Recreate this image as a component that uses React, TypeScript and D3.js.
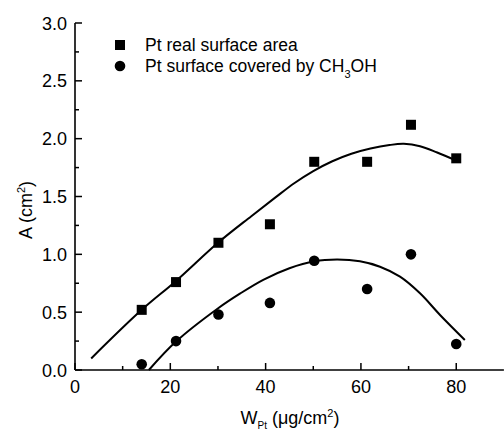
import React from "react";
import * as d3 from "d3";

// Measured Pt loading (µg/cm²) and areas (cm²)
const loadings = [14, 21.2, 30.1, 40.9, 50.2, 61.3, 70.5, 80];
const realArea = [0.52, 0.76, 1.1, 1.26, 1.8, 1.8, 2.12, 1.83];
const coveredArea = [0.05, 0.25, 0.48, 0.58, 0.945, 0.7, 1.0, 0.225];

// Fitted trend lines
const realFitX = [3.4, 14, 21.2, 30, 37, 42, 46, 50, 54, 58, 62, 66, 69, 72.4, 76, 80];
const realFitY = [0.1, 0.52, 0.77, 1.1, 1.33, 1.49, 1.615, 1.72, 1.805, 1.87, 1.915, 1.945, 1.955, 1.935, 1.88, 1.81];
const coveredFitX = [15.5, 21.3, 29.9, 34.6, 39.5, 45, 50.2, 55, 59.8, 64, 68.2, 72.4, 76.6, 81.8];
const coveredFitY = [0, 0.25, 0.53, 0.66, 0.78, 0.88, 0.94, 0.955, 0.94, 0.893, 0.807, 0.663, 0.476, 0.26];

const xMajorTicks = [0, 20, 40, 60, 80];
const xMinorTicks = [10, 30, 50, 70];
const yMajorTicks = [0, 0.5, 1.0, 1.5, 2.0, 2.5, 3.0];
const yMinorTicks = [0.25, 0.75, 1.25, 1.75, 2.25, 2.75];

const W = 504;
const H = 430;
const FONT = "'Liberation Sans', Arial, sans-serif";

export default function App() {
  const x = d3.scaleLinear().domain([0, 90]).range([75, 503.9]);
  const y = d3.scaleLinear().domain([0, 3]).range([370, 23]);

  const line = d3
    .line<[number, number]>()
    .x((d) => x(d[0]))
    .y((d) => y(d[1]))
    .curve(d3.curveCatmullRom.alpha(0.5));

  const realFit = line(realFitX.map((v, i) => [v, realFitY[i]]) as [number, number][]) || "";
  const coveredFit = line(coveredFitX.map((v, i) => [v, coveredFitY[i]]) as [number, number][]) || "";

  const [x0, x1] = x.range();
  const [y0, y1] = y.range();
  const sq = 10;

  return (
    <svg
      width={W}
      height={H}
      style={{ position: "absolute", left: 0, top: 0, background: "#fff" }}
      fontFamily={FONT}
    >
      <rect x={0} y={0} width={W} height={H} fill="#fff" />

      {/* axes */}
      <line x1={x0} x2={x1} y1={y0} y2={y0} stroke="#000" strokeWidth={1.6} />
      <line x1={x0} x2={x0} y1={y0} y2={y1} stroke="#000" strokeWidth={1.6} />

      {xMajorTicks.map((t) => (
        <g key={"xt" + t}>
          <line x1={x(t)} x2={x(t)} y1={y0} y2={y0 - 7} stroke="#000" strokeWidth={1.5} />
          <text x={x(t)} y={y0 + 23} fontSize={18} textAnchor="middle">
            {t}
          </text>
        </g>
      ))}
      {xMinorTicks.map((t) => (
        <line key={"xm" + t} x1={x(t)} x2={x(t)} y1={y0} y2={y0 - 4} stroke="#000" strokeWidth={1.5} />
      ))}

      {yMajorTicks.map((t) => (
        <g key={"yt" + t}>
          <line x1={x0} x2={x0 + 7} y1={y(t)} y2={y(t)} stroke="#000" strokeWidth={1.5} />
          <text x={x0 - 8} y={y(t) + 6.5} fontSize={18} textAnchor="end">
            {t.toFixed(1)}
          </text>
        </g>
      ))}
      {yMinorTicks.map((t) => (
        <line key={"ym" + t} x1={x0} x2={x0 + 4} y1={y(t)} y2={y(t)} stroke="#000" strokeWidth={1.5} />
      ))}

      {/* axis titles */}
      <text x={290} y={424} fontSize={18} textAnchor="middle">
        W
        <tspan fontSize={10} dy={5}>Pt</tspan>
        <tspan dy={-5}> (μg/cm</tspan>
        <tspan fontSize={11} dy={-7}>2</tspan>
        <tspan dy={7}>)</tspan>
      </text>
      <text transform="translate(32,210) rotate(-90)" fontSize={18} textAnchor="middle">
        A (cm
        <tspan fontSize={11} dy={-7}>2</tspan>
        <tspan dy={7}>)</tspan>
      </text>

      {/* fitted curves */}
      <path d={realFit} fill="none" stroke="#000" strokeWidth={2} />
      <path d={coveredFit} fill="none" stroke="#000" strokeWidth={2} />

      {/* data points */}
      {loadings.map((v, i) => (
        <rect
          key={"r" + i}
          x={x(v) - sq / 2}
          y={y(realArea[i]) - sq / 2}
          width={sq}
          height={sq}
          fill="#000"
        />
      ))}
      {loadings.map((v, i) => (
        <circle key={"c" + i} cx={x(v)} cy={y(coveredArea[i])} r={5.3} fill="#000" />
      ))}

      {/* legend */}
      <rect x={115} y={40} width={sq} height={sq} fill="#000" />
      <text x={145} y={51} fontSize={17.5}>
        Pt real surface area
      </text>
      <circle cx={120} cy={66} r={5.3} fill="#000" />
      <text x={145} y={72} fontSize={17.5}>
        Pt surface covered by CH
        <tspan fontSize={11} dy={6}>3</tspan>
        <tspan dy={-6}>OH</tspan>
      </text>
    </svg>
  );
}
